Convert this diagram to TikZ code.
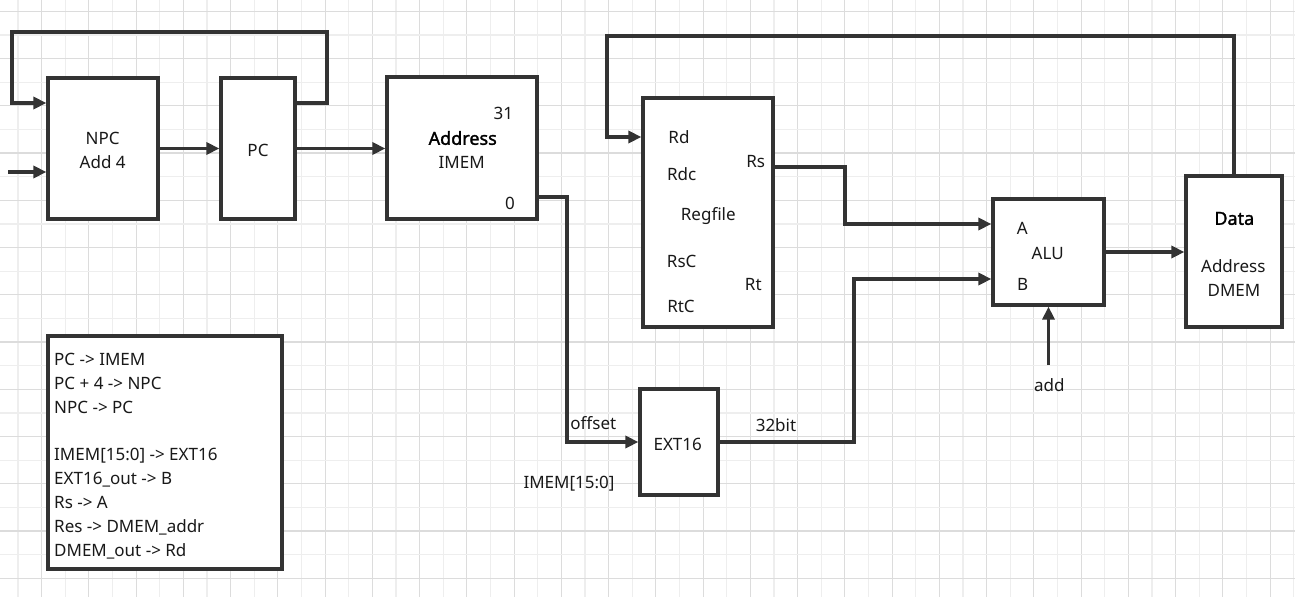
\documentclass[tikz,border=0pt]{standalone}
\usepackage{fontspec}
\setmainfont{Noto Sans}
\newfontfamily\headfont{Noto Sans}[FakeBold=1.6]
\usetikzlibrary{arrows.meta}
\definecolor{ink}{HTML}{333333}
\definecolor{gridmajor}{HTML}{DCDCDC}
\definecolor{gridminor}{HTML}{EEEEEE}
\begin{document}
\begin{tikzpicture}[x=1pt,y=-1pt,
  block/.style={draw=ink, line width=3.2pt, fill=white, inner sep=0pt, rectangle},
  wire/.style={draw=ink, line width=3.2pt, -{Triangle[length=13pt,width=12pt]}},
  lbl/.style={inner sep=0pt, anchor=base, text=black!90, font=\fontsize{17}{20}\selectfont},
  bold/.style={lbl, text=black, font=\fontsize{18}{20}\headfont},
  legendline/.style={lbl, anchor=base west}]

% canvas and background grid
\useasboundingbox (0,0) rectangle (1295,597);
\fill[white] (0,0) rectangle (1295,597);
\foreach \i in {0,...,54}{
  \pgfmathsetmacro\gx{17.975+23.625*\i}
  \pgfmathtruncatemacro\odd{mod(\i,2)}
  \ifnum\odd=1
    \draw[gridmajor, line width=1.2pt] (\gx,0) -- (\gx,597);
  \else
    \draw[gridminor, line width=1.2pt] (\gx,0) -- (\gx,597);
  \fi
}
\foreach \j in {0,...,25}{
  \pgfmathsetmacro\gy{11.3+23.625*\j}
  \pgfmathtruncatemacro\odd{mod(\j,2)}
  \ifnum\odd=0
    \draw[gridmajor, line width=1.2pt] (0,\gy) -- (1295,\gy);
  \else
    \draw[gridminor, line width=1.2pt] (0,\gy) -- (1295,\gy);
  \fi
}

% blocks
\node[block, minimum width=110pt, minimum height=141pt] (npc)  at (103,148.5) {};
\node[block, minimum width=74pt,  minimum height=141pt] (pc)   at (258,148.5) {};
\node[block, minimum width=150pt, minimum height=142pt] (imem) at (462,148) {};
\node[block, minimum width=130pt, minimum height=229pt] (reg)  at (708,212.5) {};
\node[block, minimum width=111pt, minimum height=106pt] (alu)  at (1048.5,252) {};
\node[block, minimum width=96pt,  minimum height=151pt] (dmem) at (1234,251.5) {};
\node[block, minimum width=78pt,  minimum height=106pt] (ext)  at (679,442) {};
\node[block, minimum width=234pt, minimum height=233pt] (legend) at (165,452.5) {};

% block texts
\node[lbl] (npcA) at (102.7,144) {NPC};
\node[lbl] (npcB) at (102.7,168) {Add 4};
\node[lbl] (pcT)  at (258,156) {PC};
\node[lbl] (imemHi) at (503.3,119.3) {31};
\node[bold] (imemAddr) at (462.7,144.8) {Address};
\node[lbl] (imemT) at (461.7,168.3) {IMEM};
\node[lbl] (imemLo) at (510,209.3) {0};
\node[lbl] (rdT)  at (679,143.3) {Rd};
\node[lbl] (rdcT) at (681.7,180.3) {Rdc};
\node[lbl] (regT) at (708.3,220) {Regfile};
\node[lbl] (rscT) at (681.7,267) {RsC};
\node[lbl] (rtcT) at (681,312) {RtC};
\node[lbl] (rsT)  at (755.7,167) {Rs};
\node[lbl] (rtT)  at (753.3,290) {Rt};
\node[lbl] (aluA) at (1022.3,234.3) {A};
\node[lbl] (aluT) at (1047.7,259.3) {ALU};
\node[lbl] (aluB) at (1022.7,290.3) {B};
\node[lbl] (addT) at (1049.3,391) {add};
\node[bold] (dataT) at (1234.3,224.8) {Data};
\node[lbl] (dmemAddr) at (1233.3,272) {Address};
\node[lbl] (dmemT) at (1234,296) {DMEM};
\node[lbl] (extT) at (677.7,450.3) {EXT16};
\node[lbl] (offT) at (593.3,429) {offset};
\node[lbl] (bitT) at (776,431) {32bit};
\node[lbl] (immT) at (569,488.3) {IMEM[15:0]};

% legend
\node[legendline] (lg1) at (54,365.3) {PC -> IMEM};
\node[legendline] (lg2) at (54,389.3) {PC + 4 -> NPC};
\node[legendline] (lg3) at (54,413.3) {NPC -> PC};
\node[legendline] (lg4) at (54,460.3) {IMEM[15:0] -> EXT16};
\node[legendline] (lg5) at (54,484.3) {EXT16\_out -> B};
\node[legendline] (lg6) at (54,508.3) {Rs -> A};
\node[legendline] (lg7) at (54,532.3) {Res -> DMEM\_addr};
\node[legendline] (lg8) at (54,556.3) {DMEM\_out -> Rd};

% bend points
\coordinate (pcloopR) at (327,32);
\coordinate (npcloopL) at (12,103);
\coordinate (npcin) at (8,172);
\coordinate (imemout) at (567,197);
\coordinate (bbend) at (854,279);
\coordinate (abend) at (845,167);
\coordinate (ain) at (845,224);
\coordinate (addsrc) at (1048.5,365);
\coordinate (wbtop) at (607,36);
\coordinate (rdin) at (607,137);

% connectors
\draw[wire] (pc.east |- npcloopL) -| (pcloopR) -| (npcloopL) -- (npc.west |- npcloopL);
\draw[wire] (npcin) -- (npc.west |- npcin);
\draw[wire] (npc.east) -- (pc.west);
\draw[wire] (pc.east) -- (pc.east -| imem.west);
\draw[wire] (imem.east |- imemout) -- (imemout) |- (ext.west);
\draw[wire] (ext.east) -| (bbend) -- (alu.west |- bbend);
\draw[wire] (reg.east |- abend) -- (abend) |- (alu.west |- ain);
\draw[wire] (alu.east) -- (alu.east -| dmem.west);
\draw[wire] (addsrc) -- (alu.south);
\draw[wire] (dmem.north) |- (wbtop) -- (rdin) -- (reg.west |- rdin);
\end{tikzpicture}
\end{document}
